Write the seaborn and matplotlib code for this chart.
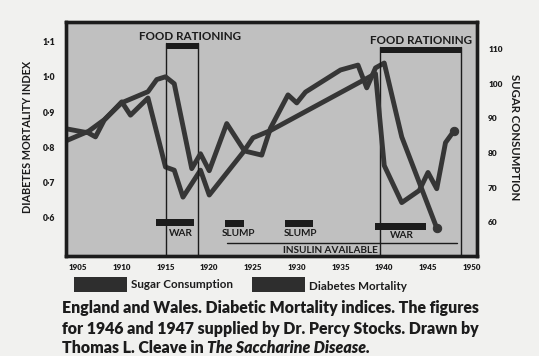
import matplotlib
matplotlib.use("Agg")
import matplotlib.pyplot as plt
import seaborn as sns
import pandas as pd
from matplotlib.patches import Rectangle

# ---------------- data ----------------
sugar_years = [1903, 1906, 1908, 1910, 1913, 1914, 1915, 1916, 1918, 1919, 1920,
               1922, 1924, 1925, 1927, 1939, 1940, 1942, 1944, 1945, 1946, 1947]
sugar_values = [87.3, 85.9, 89.6, 94.5, 97.7, 101.2, 102.0, 100.0, 75.5, 79.8, 74.9,
                88.5, 80.7, 84.4, 86.5, 102.9, 76.4, 65.7, 69.2, 74.4, 69.7, 83.0]
sugar_end_year = [1948]
sugar_end_value = [86.5]

mort_years = [1903, 1906, 1907, 1908, 1910, 1911, 1913, 1915, 1916, 1917, 1919, 1920,
              1924, 1926, 1927, 1929, 1930, 1931, 1935, 1937, 1938, 1939, 1940, 1942, 1946]
mort_values = [0.811, 0.843, 0.829, 0.877, 0.929, 0.891, 0.940, 0.743, 0.734, 0.657,
               0.734, 0.663, 0.789, 0.777, 0.854, 0.949, 0.926, 0.957, 1.020, 1.034,
               0.969, 1.026, 1.040, 0.829, 0.569]

x_ticks = [1905, 1910, 1915, 1920, 1925, 1930, 1935, 1940, 1945, 1950]
left_ticks = [0.6, 0.7, 0.8, 0.9, 1.0, 1.1]
left_tick_labels = ["0·6", "0·7", "0·8", "0·9", "1·0", "1·1"]
right_ticks = [60, 70, 80, 90, 100, 110]

rationing_periods = [(1915.05, 1918.7), (1939.5, 1948.75)]
war_periods = [(1913.9, 1918.3), (1938.9, 1944.8)]
slump_periods = [(1921.8, 1924.0), (1928.7, 1931.9)]
insulin_period = (1922.0, 1948.3)

sugar_df = pd.DataFrame({"year": sugar_years + sugar_end_year,
                         "value": sugar_values + sugar_end_value})
mort_df = pd.DataFrame({"year": mort_years, "value": mort_values})

# ---------------- style ----------------
sns.set_theme(style="white")
plt.rcParams["font.family"] = ["Lato", "DejaVu Sans"]
plt.rcParams["font.weight"] = "bold"

FIG_BG = "#f1f1ef"
AX_BG = "#c0c0c0"
LINE = "#363636"
INK = "#1c1c1c"

fig = plt.figure(figsize=(5.39, 3.56), dpi=100, facecolor=FIG_BG)
ax = fig.add_axes([66 / 539, 100 / 356, 411 / 539, 234 / 356])
ax.set_facecolor(AX_BG)
ax2 = ax.twinx()

sns.lineplot(data=mort_df, x="year", y="value", ax=ax, color=LINE, lw=3.5,
             sort=False, estimator=None)
sns.lineplot(data=sugar_df, x="year", y="value", ax=ax2, color=LINE, lw=3.5,
             sort=False, estimator=None)
for line in ax.lines + ax2.lines:
    line.set_solid_joinstyle("round")
    line.set_solid_capstyle("round")
    line.set_marker("o")
    line.set_markersize(6)
    line.set_markevery([len(line.get_xdata()) - 1])
    line.set_markerfacecolor(LINE)
    line.set_markeredgecolor(LINE)

ax.set_xlim(1903.63, 1950.6)
ax.set_ylim(0.489, 1.157)
ax2.set_ylim(50.3, 117.8)

ax.set_xticks(x_ticks)
ax.set_xticklabels([str(t) for t in x_ticks], fontsize=5.8, fontweight="heavy", color=INK)
ax.set_yticks(left_ticks)
ax.set_yticklabels(left_tick_labels, fontsize=6.2, fontweight="heavy", color=INK)
ax2.set_yticks(right_ticks)
ax2.set_yticklabels([str(t) for t in right_ticks], fontsize=6, fontweight="heavy", color=INK)
ax.tick_params(axis="x", length=0, pad=6)
ax.tick_params(axis="y", length=0, pad=8)
ax2.tick_params(axis="y", length=0, pad=8)
ax.set_xlabel("")
ax.set_ylabel("DIABETES MORTALITY INDEX", fontsize=7.8, fontweight="bold", color=INK)
ax2.set_ylabel("SUGAR CONSUMPTION", fontsize=8.2, fontweight="bold", color=INK,
               rotation=-90)
ax.yaxis.set_label_coords(-0.080, 0.51)
ax2.yaxis.set_label_coords(1.105, 0.51)

for a in (ax, ax2):
    for s in a.spines.values():
        s.set_visible(True)
        s.set_color(INK)
        s.set_linewidth(2.4)

tr = ax.get_xaxis_transform()

# food rationing boxes
bar_tops = [(0.885, 0.912), (0.866, 0.893)]
text_y = [0.936, 0.923]
for (x0, x1), (b0, b1), ty in zip(rationing_periods, bar_tops, text_y):
    ax.plot([x0, x0], [0, b1], transform=tr, color=INK, lw=1.0)
    ax.plot([x1, x1], [0, b1], transform=tr, color=INK, lw=1.0)
    ax.add_patch(Rectangle((x0, b0), x1 - x0, b1 - b0, transform=tr,
                           facecolor=INK, edgecolor="none"))
ax.text(1917.8, text_y[0], "FOOD RATIONING", transform=tr, ha="center", va="center",
        fontsize=8.4, fontweight="bold", color=INK)
ax.text(1944.2, text_y[1], "FOOD RATIONING", transform=tr, ha="center", va="center",
        fontsize=8.4, fontweight="bold", color=INK)

# war and slump bars
for (x0, x1), yb in zip(war_periods, [0.128, 0.112]):
    ax.add_patch(Rectangle((x0, yb), x1 - x0, 0.031, transform=tr,
                           facecolor=INK, edgecolor="none"))
for (x0, x1) in slump_periods:
    ax.add_patch(Rectangle((x0, 0.125), x1 - x0, 0.03, transform=tr,
                           facecolor=INK, edgecolor="none"))
ax.text(1916.7, 0.095, "WAR", transform=tr, ha="center", va="center",
        fontsize=7.2, fontweight="bold", color=INK)
ax.text(1942.0, 0.088, "WAR", transform=tr, ha="center", va="center",
        fontsize=7.2, fontweight="bold", color=INK)
ax.text(1923.3, 0.097, "SLUMP", transform=tr, ha="center", va="center",
        fontsize=7.2, fontweight="bold", color=INK)
ax.text(1930.4, 0.097, "SLUMP", transform=tr, ha="center", va="center",
        fontsize=7.2, fontweight="bold", color=INK)
ax.plot(list(insulin_period), [0.056, 0.056], transform=tr, color=INK, lw=1.0)
ax.text(1933.8, 0.022, "INSULIN AVAILABLE", transform=tr, ha="center", va="center",
        fontsize=7.2, fontweight="bold", color=INK)

# legend
fig.patches.append(Rectangle((74 / 539, 1 - 292 / 356), 53 / 539, 15 / 356,
                             transform=fig.transFigure, facecolor="#2e2e2e", edgecolor="none"))
fig.patches.append(Rectangle((252 / 539, 1 - 292 / 356), 53 / 539, 15 / 356,
                             transform=fig.transFigure, facecolor="#2e2e2e", edgecolor="none"))
fig.text(131 / 539, 1 - 285 / 356, "Sugar Consumption", fontsize=8.4, fontweight="bold",
         color=INK, va="center", ha="left")
fig.text(309 / 539, 1 - 286 / 356, "Diabetes Mortality", fontsize=8.4, fontweight="bold",
         color=INK, va="center", ha="left")

# caption
cap_kw = dict(fontsize=11.4, fontweight="heavy", color=INK, va="center", ha="left")
fig.text(62 / 539, 1 - 308 / 356,
         "England and Wales. Diabetic Mortality indices. The figures", **cap_kw)
fig.text(62 / 539, 1 - 329 / 356,
         "for 1946 and 1947 supplied by Dr. Percy Stocks. Drawn by", **cap_kw)
t3 = fig.text(62 / 539, 1 - 348 / 356, "Thomas L. Cleave in ", **cap_kw)
renderer = fig.canvas.get_renderer()
bb = t3.get_window_extent(renderer=renderer)
fig.text(bb.x1 / fig.bbox.width, 1 - 348 / 356, "The Saccharine Disease.",
         fontstyle="italic", **cap_kw)

fig.savefig("out.png", dpi=100, facecolor=FIG_BG)
